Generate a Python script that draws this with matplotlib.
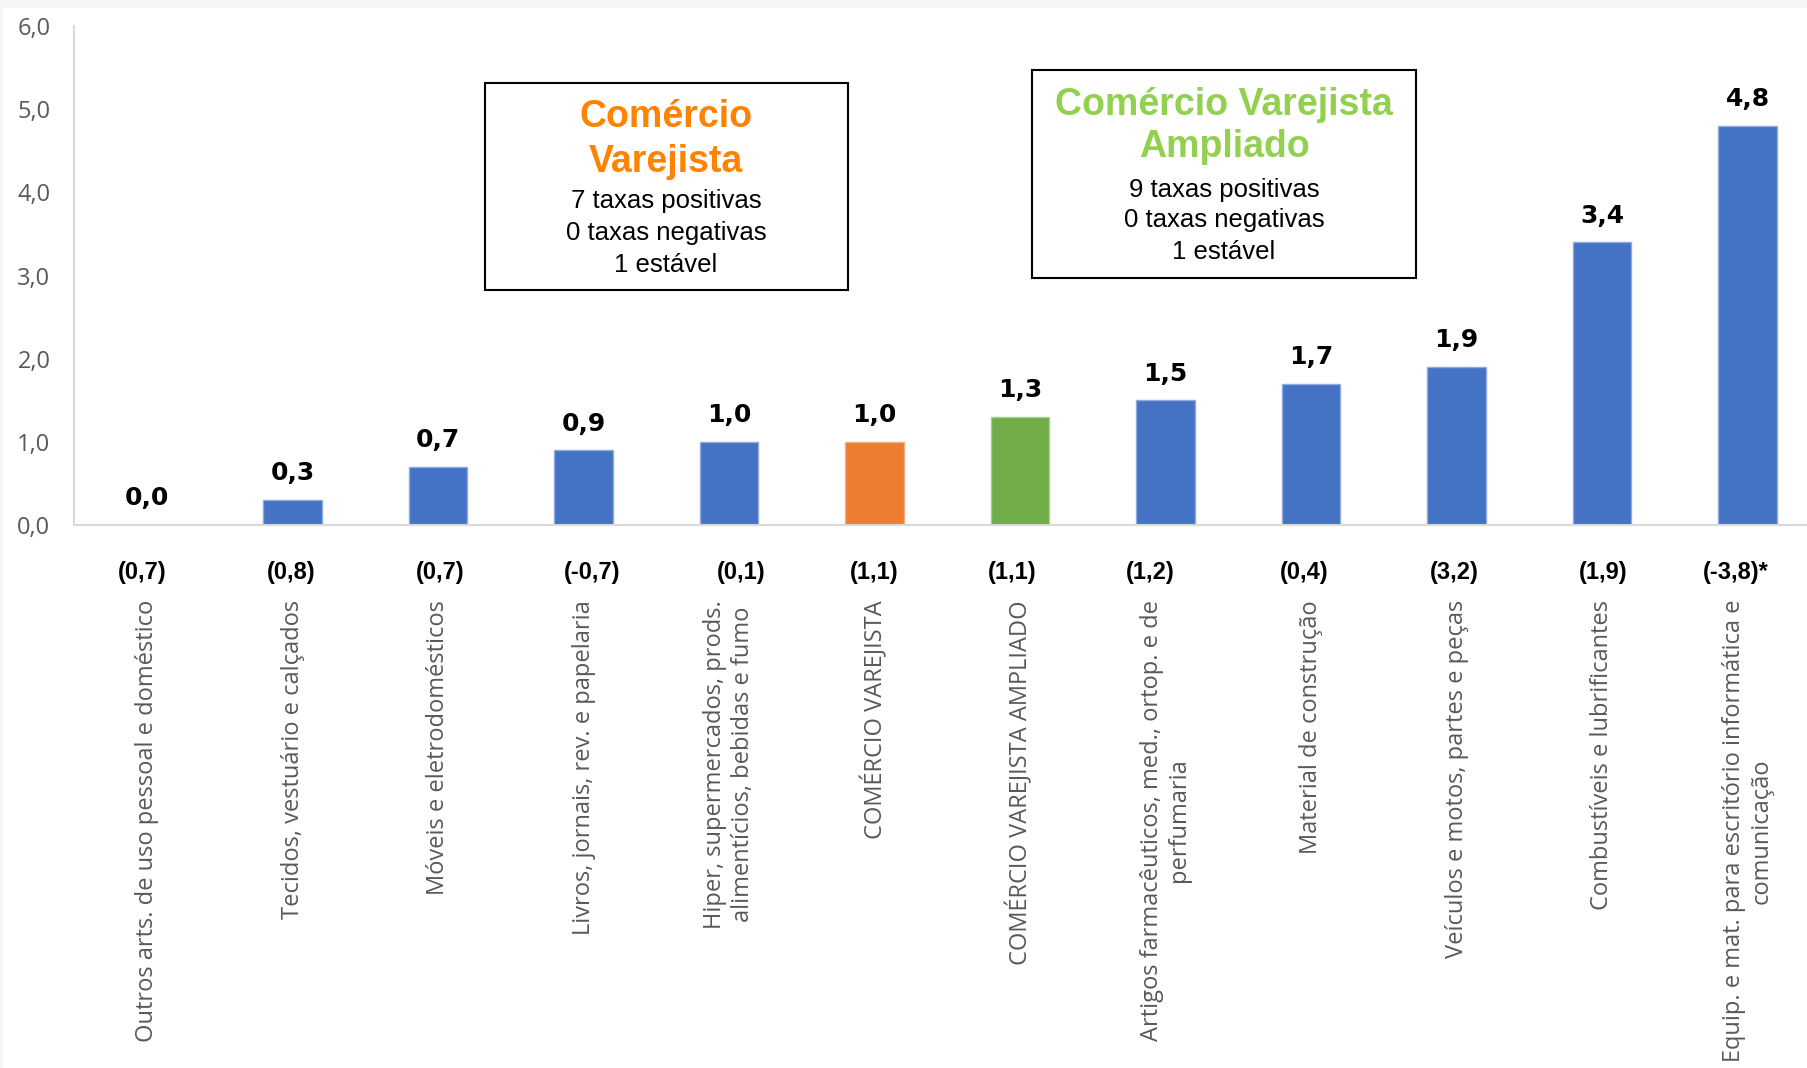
import matplotlib
matplotlib.use("Agg")
import matplotlib.pyplot as plt
from matplotlib.patches import Rectangle
from matplotlib.ticker import FuncFormatter

categorias = [
    "Outros arts. de uso pessoal e doméstico",
    "Tecidos, vestuário e calçados",
    "Móveis e eletrodomésticos",
    "Livros, jornais, rev. e papelaria",
    "Hiper, supermercados, prods.\nalimentícios, bebidas e fumo",
    "COMÉRCIO VAREJISTA",
    "COMÉRCIO VAREJISTA AMPLIADO",
    "Artigos farmacêuticos, med., ortop. e de\nperfumaria",
    "Material de construção",
    "Veículos e motos, partes e peças",
    "Combustíveis e lubrificantes",
    "Equip. e mat. para escritório informática e\ncomunicação",
]
taxas = [0.0, 0.3, 0.7, 0.9, 1.0, 1.0, 1.3, 1.5, 1.7, 1.9, 3.4, 4.8]
anteriores = ["(0,7)", "(0,8)", "(0,7)", "(-0,7)", "(0,1)", "(1,1)", "(1,1)",
              "(1,2)", "(0,4)", "(3,2)", "(1,9)", "(-3,8)*"]

box_varejo = ["7 taxas positivas", "0 taxas negativas", "1 estável"]
box_ampliado = ["9 taxas positivas", "0 taxas negativas", "1 estável"]

# the (x,x) labels are hand-placed in the original, not exactly centred
desloc_px = [-5, -1, 2, 9, 12, 0, -8, -15, -7, -2, 1, -12]

W, H = 1807, 1068
fig = plt.figure(figsize=(W / 100, H / 100), dpi=100)
fig.patch.set_facecolor("white")

def fx(x):
    return x / W

def fy(y):
    return 1 - y / H

# thin grey frame strip seen at the top/left of the screenshot
fig.add_artist(Rectangle((0, fy(8)), 1, 8 / H, transform=fig.transFigure,
                         color="#F4F5F7", lw=0))
fig.add_artist(Rectangle((0, 0), 3 / W, 1, transform=fig.transFigure,
                         color="#F4F5F7", lw=0))

ax = fig.add_axes([fx(74), fy(525), 1 - fx(74), (525 - 26) / H])

cores = []
bordas = []
for c in categorias:
    if c == "COMÉRCIO VAREJISTA":
        cores.append("#ED7D31"); bordas.append("#F4B183")
    elif c == "COMÉRCIO VAREJISTA AMPLIADO":
        cores.append("#70AD47"); bordas.append("#A9D18E")
    else:
        cores.append("#4472C4"); bordas.append("#8FAADC")

x = list(range(len(categorias)))
bars = ax.bar(x, taxas, width=0.4, color=cores, edgecolor=bordas, linewidth=1, zorder=3)

for xi, v in zip(x, taxas):
    ax.annotate(f"{v:.1f}".replace(".", ","), (xi, v), xytext=(0, 10.5),
                textcoords="offset points", ha="center", va="bottom",
                fontsize=18, fontweight="bold", family="DejaVu Sans", color="black")

for xi, t, d in zip(x, anteriores, desloc_px):
    ax.annotate(t, (xi, -48 / 499), xycoords=ax.get_xaxis_transform(),
                xytext=(d * 0.72, 0), textcoords="offset points",
                ha="center", va="center", fontsize=17, fontweight="bold",
                family="Liberation Sans", color="black")

ax.set_xlim(-0.502, -0.502 + (W - 74) / 145.5)
ax.set_ylim(0, 6)
ax.set_yticks([0, 1, 2, 3, 4, 5, 6])
ax.yaxis.set_major_formatter(FuncFormatter(lambda v, p: f"{v:.1f}".replace(".", ",")))
ax.set_xticks(x)
ax.set_xticklabels(categorias, rotation=90, ha="center", va="top",
                   multialignment="center", family="Open Sans", fontsize=17,
                   color="#595959")
ax.tick_params(axis="x", length=0, pad=54)
ax.tick_params(axis="y", length=0, pad=17, labelsize=17, labelcolor="#595959")
for lab in ax.get_yticklabels():
    lab.set_family("Open Sans")

for s in ["top", "right"]:
    ax.spines[s].set_visible(False)
ax.spines["left"].set_color("#D9D9D9")
ax.spines["left"].set_linewidth(1.5)
ax.spines["bottom"].set_color("#D9D9D9")
ax.spines["bottom"].set_linewidth(1.5)
ax.spines["bottom"].set_zorder(4)

# boxes
fig.add_artist(Rectangle((fx(485), fy(290)), fx(848) - fx(485), (290 - 83) / H,
                         transform=fig.transFigure, fill=False, ec="black", lw=1.5))
fig.add_artist(Rectangle((fx(1032), fy(278)), fx(1416) - fx(1032), (278 - 70) / H,
                         transform=fig.transFigure, fill=False, ec="black", lw=1.5))

laranja = "#FF8200"
verde = "#92D050"
fig.text(fx(666), fy(127), "Comércio", ha="center", va="baseline", fontsize=27,
         fontweight="bold", family="Liberation Sans", color=laranja)
fig.text(fx(666), fy(172), "Varejista", ha="center", va="baseline", fontsize=27,
         fontweight="bold", family="Liberation Sans", color=laranja)
for yb, t in zip([208, 240, 272], box_varejo):
    fig.text(fx(666), fy(yb), t, ha="center", va="baseline", fontsize=18.5,
             family="Liberation Sans", color="black")

fig.text(fx(1224), fy(115), "Comércio Varejista", ha="center", va="baseline",
         fontsize=27, fontweight="bold", family="Liberation Sans", color=verde)
fig.text(fx(1224), fy(157), "Ampliado", ha="center", va="baseline", fontsize=27,
         fontweight="bold", family="Liberation Sans", color=verde)
for yb, t in zip([197, 227, 259], box_ampliado):
    fig.text(fx(1224), fy(yb), t, ha="center", va="baseline", fontsize=18.5,
             family="Liberation Sans", color="black")

fig.savefig("out.png", dpi=100)
